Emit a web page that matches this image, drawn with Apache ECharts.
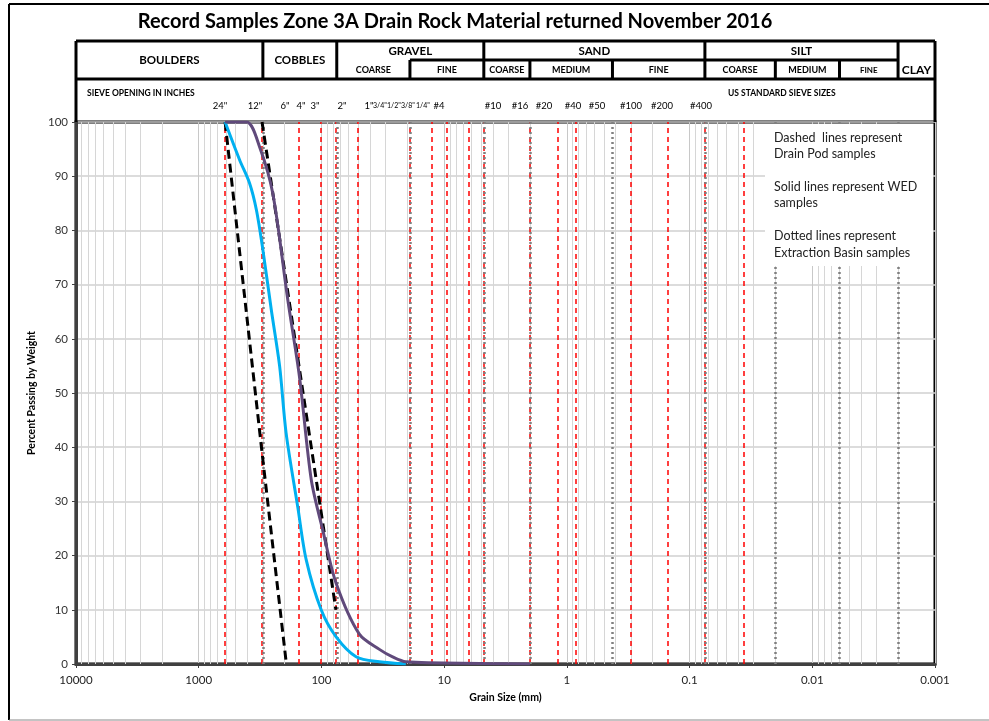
<!DOCTYPE html>
<html>
<head>
<meta charset="utf-8">
<script src="https://cdn.jsdelivr.net/npm/echarts@6/dist/echarts.min.js"></script>
<style>
html, body { margin: 0; padding: 0; background: #fff; }
#chart { width: 989px; height: 721px; }
</style>
</head>
<body>
<div id="chart"></div>
<script>
// WED samples (solid), grain size in mm / percent passing
const wedPurpleSize = [609.6, 407, 319, 249, 188, 151, 121, 97.5, 75.9, 49.1, 33.7, 26.3, 20.5, 4.75, 2.0];
const wedPurplePct  = [100, 100, 95.4, 86.8, 67.2, 53, 34, 24.7, 14.9, 5.5, 2.7, 1.3, 0.4, 0.1, 0];
const wedCyanSize = [609.6, 464, 385, 339, 300, 256, 219, 194, 156, 133, 100.5, 75.9, 52.2, 33.7, 20.5];
const wedCyanPct  = [100, 93, 88.7, 83.8, 76.4, 65.3, 54.9, 42.6, 29, 19.2, 10, 5, 1.35, 0.4, 0];
// Drain Pod samples (dashed)
const podASize = [609.6, 304.8, 193];
const podAPct  = [100, 39, 0];
const podBSize = [304.8, 76.2];
const podBPct  = [100, 10];

// sieve openings (red dashed) and soil class limits (grey dotted), mm
const sieveSizes = [609.6, 304.8, 152.4, 101.6, 76.2, 50.8, 19.05, 12.7, 9.525, 6.35, 4.75, 2.0, 1.18, 0.85, 0.3, 0.15, 0.075, 0.0365];
const classLimits = [300, 75, 19, 4.75, 2.0, 0.425, 0.075, 0.02, 0.006, 0.002];

// header texts
const mainClasses = ['BOULDERS', 'COBBLES', 'GRAVEL', 'SAND', 'SILT', 'CLAY'];
const inchLabels = ['24"', '12"', '6"', '4"', '3"', '2"', '1"', '3/4"', '1/2"', '3/8"', '1/4"', '#4'];
const meshLabels = ['#10', '#16', '#20', '#40', '#50', '#100', '#200', '#400'];
const noteLines = [
  'Dashed  lines represent', 'Drain Pod samples',
  'Solid lines represent WED', 'samples',
  'Dotted lines represent', 'Extraction Basin samples'
];

const pairs = (xs, ys) => xs.map((x, i) => [x, ys[i]]);

// minor log grid lines 2..9 in each decade
const minorGrid = [];
[0.001, 0.01, 0.1, 1, 10, 100, 1000].forEach(d => {
  for (let m = 2; m <= 9; m++) minorGrid.push(+(d * m).toPrecision(3));
});

const FONT = 'Lato, "Open Sans", sans-serif';
const chart = echarts.init(document.getElementById('chart'));

function vLines(vals) {
  return vals.map(v => ({ xAxis: v }));
}

const option = {
  animation: false,
  grid: { left: 76, right: 54, top: 122, bottom: 57, show: true, borderColor: '#000', borderWidth: 3 },
  xAxis: {
    type: 'log', logBase: 10, min: 0.001, max: 10000, inverse: true,
    name: 'Grain Size (mm)', nameLocation: 'middle', nameGap: 28,
    nameTextStyle: { fontFamily: FONT, fontWeight: 'bold', fontSize: 10.5, color: '#000' },
    axisLine: { show: true, lineStyle: { color: '#404040', width: 3 } },
    axisTick: { show: true, length: 4, lineStyle: { color: '#404040' } },
    axisLabel: {
      fontFamily: FONT, fontSize: 11.5, color: '#222', margin: 10,
      formatter: v => String(+v.toPrecision(3))
    },
    splitLine: { show: true, lineStyle: { color: '#c8c8c8', width: 1 } }
  },
  yAxis: {
    type: 'value', min: 0, max: 100, interval: 10,
    name: 'Percent Passing by Weight', nameLocation: 'middle', nameGap: 34,
    nameTextStyle: { fontFamily: FONT, fontWeight: 'bold', fontSize: 10.5, color: '#000' },
    axisLine: { show: true, lineStyle: { color: '#404040', width: 3 } },
    axisTick: { show: true, length: 4, lineStyle: { color: '#404040' } },
    axisLabel: { fontFamily: FONT, fontSize: 11.5, color: '#333', margin: 8 },
    splitLine: { show: true, lineStyle: { color: '#d0d0d0', width: 1.5 } }
  },
  series: [
    {
      type: 'line', data: [], silent: true, z: 1,
      markLine: {
        silent: true, precision: 6, symbol: ['none', 'none'], label: { show: false },
        lineStyle: { color: '#d6d6d6', width: 1, type: 'solid' },
        data: vLines(minorGrid)
      }
    },
    {
      type: 'line', data: [], silent: true, z: 2,
      markLine: {
        silent: true, precision: 6, symbol: ['none', 'none'], label: { show: false },
        lineStyle: { color: '#ff0000', width: 1.5, type: [5, 4] },
        data: vLines(sieveSizes)
      }
    },
    {
      type: 'line', data: [], silent: true, z: 3,
      markLine: {
        silent: true, precision: 6, symbol: ['none', 'none'], label: { show: false },
        lineStyle: { color: '#808080', width: 2.5, type: [2, 3] },
        data: vLines(classLimits)
      }
    },
    {
      name: 'Drain Pod A', type: 'line', z: 5, showSymbol: false,
      data: pairs(podASize, podAPct),
      lineStyle: { color: '#000', width: 3, type: [9, 5] }
    },
    {
      name: 'Drain Pod B', type: 'line', z: 5, showSymbol: false,
      data: pairs(podBSize, podBPct),
      lineStyle: { color: '#000', width: 3, type: [9, 5] }
    },
    {
      name: 'WED 1', type: 'line', z: 6, showSymbol: false, smooth: 0.3,
      data: pairs(wedCyanSize, wedCyanPct),
      lineStyle: { color: '#00b0f0', width: 3 }
    },
    {
      name: 'WED 2', type: 'line', z: 6, showSymbol: false, smooth: 0.3,
      data: pairs(wedPurpleSize, wedPurplePct),
      lineStyle: { color: '#604a7b', width: 3 }
    }
  ]
};
chart.setOption(option);

// header table built on the x scale of the chart
const px = v => chart.convertToPixel({ xAxisIndex: 0 }, v);
const L = 76, R = 935, T = 41, M = 60, B = 79, P = 122;
const c = classLimits.map(px);
const g = [];
const line = (x1, y1, x2, y2, w) => g.push({
  type: 'line', z: 50, shape: { x1, y1, x2, y2 }, style: { stroke: '#000', lineWidth: w || 3 }
});
const text = (x, y, s, size, bold, align) => g.push({
  type: 'text', z: 51, x, y,
  style: {
    text: s, fill: '#000', font: (bold ? 'bold ' : '') + size + 'px ' + FONT,
    align: align || 'center', verticalAlign: 'middle'
  }
});

// outer frame
line(9, 4, 989, 4, 2);
line(9, 4, 9, 720, 2);
g.push({ type: 'line', z: 50, shape: { x1: 9, y1: 720, x2: 989, y2: 720 }, style: { stroke: '#888', lineWidth: 1 } });

text(455, 22, 'Record Samples Zone 3A Drain Rock Material returned November 2016', 20, true);

line(L, T, R, T); line(L, T, L, P); line(R, T, R, P);
line(L, B, R, B);
line(c[2], M, c[9], M);
[c[0], c[1], c[3], c[6], c[9]].forEach(x => line(x, T, x, B));
[c[2], c[4], c[5], c[7], c[8]].forEach(x => line(x, M, x, B));

const mid = (a, b) => (a + b) / 2;
text(mid(L, c[0]), mid(T, B), mainClasses[0], 11.5, true);
text(mid(c[0], c[1]), mid(T, B), mainClasses[1], 11.5, true);
text(mid(c[1], c[3]), mid(T, M) + 1, mainClasses[2], 11.5, true);
text(mid(c[3], c[6]), mid(T, M) + 1, mainClasses[3], 11.5, true);
text(mid(c[6], c[9]), mid(T, M) + 1, mainClasses[4], 11.5, true);
text(mid(c[9], R), mid(T, B) + 10, mainClasses[5], 12, true);
const sub = [[c[1], c[2], 'COARSE'], [c[2], c[3], 'FINE'], [c[3], c[4], 'COARSE'], [c[4], c[5], 'MEDIUM'],
  [c[5], c[6], 'FINE'], [c[6], c[7], 'COARSE'], [c[7], c[8], 'MEDIUM'], [c[8], c[9], 'FINE']];
sub.forEach((s, i) => text(mid(s[0], s[1]), mid(M, B) + 1, s[2], i === 7 ? 8 : 9, true));

text(87, 93, 'SIEVE OPENING IN INCHES', 8.5, true, 'left');
text(728, 93, 'US STANDARD SIEVE SIZES', 8.5, true, 'left');
const inchX = [220, 255, 285, 301, 315, 342, 369, 380, 394, 408, 423, 439];
inchLabels.forEach((s, i) => text(inchX[i], 106, s, i >= 7 && i <= 10 ? 7 : 9.5, false));
const meshX = [493, 520, 544, 573, 597, 631, 662, 701];
meshLabels.forEach((s, i) => text(meshX[i], 106, s, 9.5, false));

// note box
g.push({ type: 'rect', z: 50, shape: { x: 765, y: 124, width: 168, height: 142 }, style: { fill: '#fff' } });
const noteY = [138, 154, 187, 203, 236, 253];
noteLines.forEach((s, i) => g.push({
  type: 'text', z: 51, x: 774, y: noteY[i],
  style: { text: s, fill: '#222', font: '12.5px ' + FONT, align: 'left', verticalAlign: 'middle' }
}));

chart.setOption({ graphic: g });
</script>
</body>
</html>
